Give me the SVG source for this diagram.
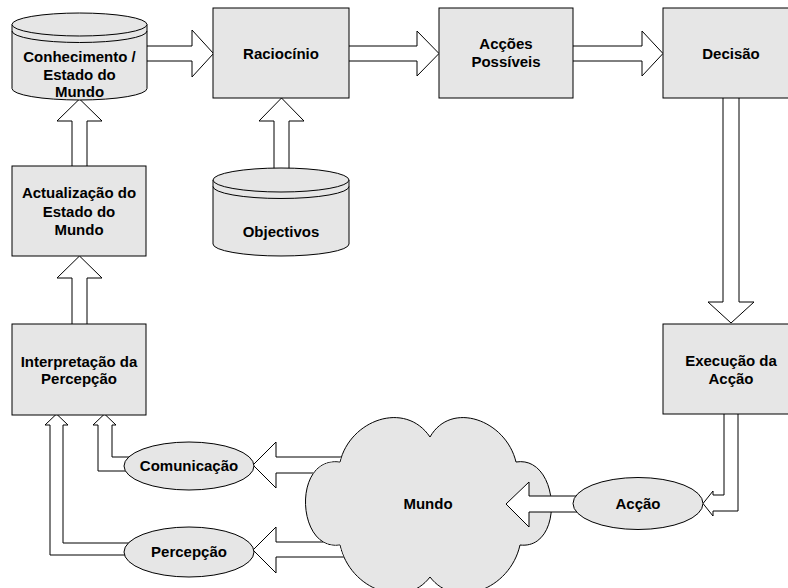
<svg xmlns="http://www.w3.org/2000/svg" width="788" height="588" viewBox="0 0 788 588">
<style>
.n{fill:#e6e6e6;stroke:#000;stroke-width:1}
.a{fill:#fff;stroke:#000;stroke-width:1;stroke-linejoin:miter}
.t{font-family:"Liberation Sans",Arial,Helvetica,sans-serif;font-weight:bold;font-size:15px;fill:#000;text-anchor:middle}
</style>
<defs>
<path id="cloud" d="M340,462 C350,420 405,400 430,437 C451,400 506,420 516,462 C560,455 565,550 520,545 C510,590 455,610 430,577 C405,610 350,590 340,545 C296,552 292,455 340,462 Z"/>
<mask id="outsideCloud" maskUnits="userSpaceOnUse" x="0" y="0" width="788" height="588">
<rect x="0" y="0" width="788" height="588" fill="#fff"/>
<use href="#cloud" fill="#000" stroke="#000" stroke-width="1"/>
</mask>
</defs>
<rect x="0" y="0" width="788" height="588" fill="#fff"/>
<g id="mundo">
<use href="#cloud" class="n"/>
<text class="t" x="428" y="509">Mundo</text>
</g>
<g id="connectors">
<path class="a" d="M140,46 L192,46 L192,30 L213.5,53.5 L192,77 L192,61 L140,61"/>
<path class="a" d="M345,46 L417,46 L417,31 L439,53.5 L417,76 L417,61 L345,61"/>
<path class="a" d="M570,46 L642,46 L642,31 L663,53.5 L642,76 L642,61 L570,61"/>
<path class="a" d="M723,94 L723,302 L708,302 L731,323 L754,302 L739,302 L739,94"/>
<path class="a" d="M724,410 L724,495 L713,495 L713,491 L703,503.5 L713,516 L713,511 L738,511 L738,410"/>
<path class="a" d="M580,496 L529,496 L529,482 L506,504 L529,527 L529,512 L580,512"/>
<g mask="url(#outsideCloud)">
<path class="a" d="M360,457 L276,457 L276,442 L253,465 L276,488 L276,473 L360,473"/>
<path class="a" d="M360,542 L276,542 L276,527 L253,550 L276,573 L276,557 L360,557"/>
</g>
<path class="a" d="M140,457 L112,457 L112,425 L116,425 L104.5,414 L93,425 L98,425 L98,471 L140,471"/>
<path class="a" d="M140,543 L63,543 L63,425 L68,425 L56.5,414 L45,425 L50,425 L50,555 L140,555"/>
<path class="a" d="M72,330 L72,278 L57,278 L79.5,256 L102,278 L87,278 L87,330"/>
<path class="a" d="M72,170 L72,121 L57,121 L79.5,99 L102,121 L87,121 L87,170"/>
<path class="a" d="M274,172 L274,121 L259,121 L281.5,98 L304,121 L289,121 L289,172"/>
</g>
<g id="conhecimento">
<path class="n" d="M12,24.5 V88.5 A67.5,11.5 0 0 0 147,88.5 V24.5 Z"/>
<ellipse class="n" cx="79.5" cy="24.5" rx="67.5" ry="11.5"/>
<path d="M12,31 A67.5,11.5 0 0 0 147,31" fill="none" stroke="#000"/>
<text class="t" x="79.5" y="62">Conhecimento /</text>
<text class="t" x="79.5" y="80">Estado do</text>
<text class="t" x="79.5" y="97">Mundo</text>
</g>
<g id="raciocinio">
<rect class="n" x="213" y="8" width="136" height="90"/>
<text class="t" x="281" y="58.5">Raciocínio</text>
</g>
<g id="accoes-possiveis">
<rect class="n" x="439" y="8" width="134" height="90"/>
<text class="t" x="506" y="49">Acções</text>
<text class="t" x="506" y="67">Possíveis</text>
</g>
<g id="decisao">
<rect class="n" x="663" y="8" width="136" height="90"/>
<text class="t" x="731" y="58.5">Decisão</text>
</g>
<g id="objectivos">
<path class="n" d="M213,180 V244 A68,12 0 0 0 349,244 V180 Z"/>
<ellipse class="n" cx="281" cy="180" rx="68" ry="12"/>
<path d="M213,186.5 A68,12 0 0 0 349,186.5" fill="none" stroke="#000"/>
<text class="t" x="281" y="237">Objectivos</text>
</g>
<g id="actualizacao">
<rect class="n" x="12" y="166" width="134" height="90"/>
<text class="t" x="79" y="198">Actualização do</text>
<text class="t" x="79" y="216.5">Estado do</text>
<text class="t" x="79" y="235">Mundo</text>
</g>
<g id="interpretacao">
<rect class="n" x="12" y="324" width="134" height="91"/>
<text class="t" x="79" y="366.5">Interpretação da</text>
<text class="t" x="79" y="384">Percepção</text>
</g>
<g id="execucao">
<rect class="n" x="663" y="324" width="136" height="90"/>
<text class="t" x="731" y="365.5">Execução da</text>
<text class="t" x="731" y="383.5">Acção</text>
</g>
<g id="comunicacao">
<ellipse class="n" cx="189" cy="466" rx="65" ry="24"/>
<text class="t" x="189" y="471">Comunicação</text>
</g>
<g id="percepcao">
<ellipse class="n" cx="189" cy="552" rx="65" ry="25"/>
<text class="t" x="189" y="557">Percepção</text>
</g>
<g id="accao">
<ellipse class="n" cx="638" cy="503.5" rx="65" ry="26"/>
<text class="t" x="638" y="508.5">Acção</text>
</g>
</svg>
